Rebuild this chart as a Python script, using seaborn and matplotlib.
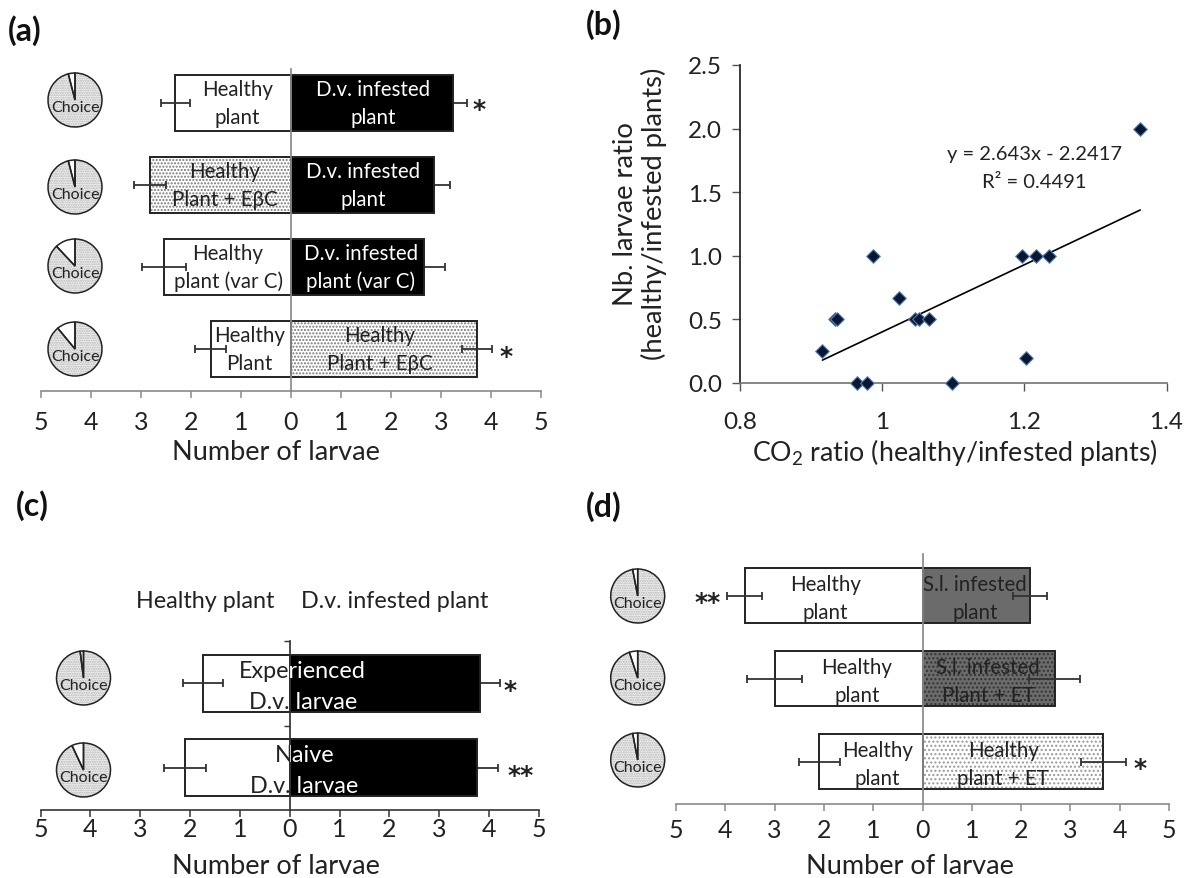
import matplotlib
matplotlib.use("Agg")
import matplotlib.pyplot as plt
from matplotlib.patches import Rectangle
from matplotlib.transforms import Bbox, TransformedBbox
import seaborn as sns

W, H = 1189, 879

# panel (a)
a_rows = ["r1", "r2", "r3", "r4"]
a_left = [2.32, 2.82, 2.54, 1.61]
a_left_err = [0.29, 0.32, 0.44, 0.31]
a_right = [3.23, 2.86, 2.65, 3.71]
a_right_err = [0.29, 0.31, 0.42, 0.30]
a_left_txt = [["Healthy", "plant"], ["Healthy", "Plant + EβC"], ["Healthy", "plant (var C)"], ["Healthy", "Plant"]]
a_right_txt = [["D.v. infested", "plant"], ["D.v. infested", "plant"], ["D.v. infested", "plant (var C)"], ["Healthy", "Plant + EβC"]]
a_pies = [4, 4, 12, 11]

# panel (b)
co2_ratio = [0.916, 0.933, 0.937, 0.964, 0.979, 0.987, 1.023, 1.046, 1.052, 1.066, 1.098, 1.197, 1.216, 1.235, 1.203, 1.363]
larvae_ratio = [0.25, 0.5, 0.5, 0.0, 0.0, 1.0, 0.667, 0.5, 0.5, 0.5, 0.0, 1.0, 1.0, 1.0, 0.2, 2.0]
trend_x = [0.916, 1.363]
trend_y = [0.18, 1.36]

# panel (c)
c_rows = ["r1", "r2"]
c_left = [1.75, 2.10]
c_left_err = [0.40, 0.42]
c_right = [3.81, 3.76]
c_right_err = [0.40, 0.42]
c_txt = [["Experienced", "D.v. larvae"], ["Naive", "D.v. larvae"]]
c_pies = [2, 7]

# panel (d)
d_rows = ["r1", "r2", "r3"]
d_left = [3.61, 3.00, 2.09]
d_left_err = [0.36, 0.55, 0.41]
d_right = [2.18, 2.68, 3.67]
d_right_err = [0.35, 0.51, 0.46]
d_left_txt = [["Healthy", "plant"], ["Healthy", "plant"], ["Healthy", "plant"]]
d_right_txt = [["S.l. infested", "plant"], ["S.l. infested", "Plant + ET"], ["Healthy", "plant + ET"]]
d_pies = [3, 5, 3]

x_ticks = [-5, -4, -3, -2, -1, 0, 1, 2, 3, 4, 5]
x_labels = ["5", "4", "3", "2", "1", "0", "1", "2", "3", "4", "5"]

sns.set_theme(style="white")
plt.rcParams["font.family"] = ["Lato", "DejaVu Sans"]
plt.rcParams["mathtext.default"] = "regular"
INK = "#222222"

fig = plt.figure(figsize=(W / 100, H / 100), dpi=100)


def add_px_axes(x0, x1, y_top, y_bottom):
    return fig.add_axes([x0 / W, 1 - y_bottom / H, (x1 - x0) / W, (y_bottom - y_top) / H])


def draw_pie(cx, cy, white_pct, r=27):
    s = r * 1.25
    pa = add_px_axes(cx - s, cx + s, cy - s, cy + s)
    vals = [white_pct, 100 - white_pct]
    pa.pie(vals, colors=["white", "#f2f2f2"], startangle=90, hatch=["", "......."],
           wedgeprops={"edgecolor": "#b4b4b4", "linewidth": 0})
    pa.pie(vals, startangle=90, wedgeprops={"fill": False, "edgecolor": INK, "linewidth": 1.1})
    pa.set_xlim(-1.25, 1.25)
    pa.set_ylim(-1.25, 1.25)
    pa.text(0, -0.27, "Choice", ha="center", va="center", fontsize=11.5, color=INK)


def bars(ax, rows, left, right, width):
    sns.barplot(x=[-v for v in left], y=rows, orient="h", color="white", saturation=1,
                edgecolor=INK, linewidth=1.4, width=width, ax=ax)
    n = len(ax.patches)
    sns.barplot(x=right, y=rows, orient="h", color="black", saturation=1,
                edgecolor=INK, linewidth=1.4, width=width, ax=ax)
    return n


def stipple(ax, patch, face, dots, dot_color):
    # hatch takes the edge colour, so the dark outline goes on as its own patch
    patch.set(facecolor=face, hatch=dots, edgecolor=dot_color, linewidth=0)
    ax.add_patch(Rectangle(patch.get_xy(), patch.get_width(), patch.get_height(),
                           fill=False, edgecolor=INK, linewidth=1.4, zorder=patch.get_zorder() + 0.1))


def finish_axis(ax, ylim, pad, spine_color, xlabel_x, xlabel_y):
    ax.set_xlim(-5, 5)
    ax.set_ylim(*ylim)
    ax.set_xticks(x_ticks, x_labels)
    ax.set_ylabel("")
    ax.set_xlabel("Number of larvae", fontsize=19.5, color=INK, va="center")
    ax.xaxis.set_label_coords(xlabel_x, xlabel_y)
    ax.tick_params(axis="x", length=5, width=1.1, color=spine_color, pad=pad, labelsize=18,
                   labelcolor=INK, bottom=True)
    sns.despine(ax=ax, top=True, right=True)
    ax.spines["left"].set_position(("data", 0))
    ax.spines["left"].set_color(spine_color)
    ax.spines["left"].set_zorder(5)
    ax.spines["bottom"].set_color(spine_color)
    ax.spines["bottom"].set_linewidth(1.2)
    ax.patch.set_alpha(0)


def error_bars(ax, rows, left, left_err, right, right_err, behind=()):
    style = dict(fmt="none", ecolor="#333333", elinewidth=1.3, capsize=3, capthick=1.3)
    for i in range(len(rows)):
        ax.errorbar(-left[i], i, xerr=left_err[i], zorder=6, **style)
        # on the black bars only the outer half of the whisker shows
        ax.errorbar(right[i], i, xerr=right_err[i], zorder=0.5 if i in behind else 6, **style)


def two_lines(ax, x, y, lines, off, color=INK, size=14.8):
    ax.text(x, y - off, lines[0], ha="center", va="center", fontsize=size, color=color, zorder=7)
    ax.text(x, y + off, lines[1], ha="center", va="center", fontsize=size, color=color, zorder=7)


def star(ax, x, y, s):
    ax.text(x, y, s, ha="center", va="center", fontsize=18, fontweight="bold", color=INK, zorder=7,
            family="DejaVu Sans")


# (a)
ax_a = add_px_axes(41, 541, 70, 392)
n = bars(ax_a, a_rows, a_left, a_right, 0.68)
stipple(ax_a, ax_a.patches[1], "white", ".....", "#777777")
stipple(ax_a, ax_a.patches[n + 3], "white", ".....", "#777777")
error_bars(ax_a, a_rows, a_left, a_left_err, a_right, a_right_err, behind=(0, 1, 2))
finish_axis(ax_a, (3.51, -0.41), 9, "#8a8a8a", (276 - 41) / 500, (392 - 453) / 322)
ax_a.set_yticks([])
a_left_x = [-1.07, -1.33, -1.26, -0.83]
a_right_x = [1.64, 1.45, 1.40, 1.77]
for i in range(4):
    two_lines(ax_a, a_left_x[i], i, a_left_txt[i], 0.17)
    two_lines(ax_a, a_right_x[i], i, a_right_txt[i], 0.17, color=INK if i == 3 else "white")
star(ax_a, 3.77, 0.08, "*")
star(ax_a, 4.3, 3.08, "*")
for cy, p in zip([101, 188, 267, 350], a_pies):
    draw_pie(75, cy, p)

# (b)
ax_b = add_px_axes(740, 1166.5, 66, 384)
sns.scatterplot(x=co2_ratio, y=larvae_ratio, marker="D", s=48, color="#0b1730",
                edgecolor="#4f7fb8", linewidth=0.8, zorder=5, clip_on=False, ax=ax_b)
sns.lineplot(x=trend_x, y=trend_y, color="black", linewidth=1.2, ax=ax_b)
ax_b.set_xlim(0.8, 1.4)
ax_b.set_ylim(0, 2.5)
ax_b.set_xticks([0.8, 1.0, 1.2, 1.4], ["0.8", "1", "1.2", "1.4"])
ax_b.set_yticks([0, 0.5, 1.0, 1.5, 2.0, 2.5], ["0.0", "0.5", "1.0", "1.5", "2.0", "2.5"])
ax_b.tick_params(axis="y", length=6, width=1, color="#555555", labelsize=17.5, labelcolor=INK, left=True, pad=7)
ax_b.tick_params(axis="x", length=6, width=1, color="#555555", labelsize=17.5, labelcolor=INK, bottom=True, pad=14)
sns.despine(ax=ax_b)
ax_b.spines["left"].set_color(INK)
ax_b.spines["bottom"].set_color("#777777")
ax_b.set_xlabel("CO$_2$ ratio (healthy/infested plants)", fontsize=19.3, color=INK, va="center")
ax_b.xaxis.set_label_coords((955 - 740) / 426.5, (384 - 452) / 318)
ax_b.set_ylabel("Nb. larvae ratio\n(healthy/infested plants)", fontsize=19.7, color=INK, linespacing=1.1, va="center")
ax_b.yaxis.set_label_coords((640 - 740) / 426.5, (384 - 214) / 318)
ax_b.text(1.2136, 1.808, "y = 2.643x - 2.2417", ha="center", va="center", fontsize=14.5, color=INK)
ax_b.text(1.2136, 1.588, "R² = 0.4491", ha="center", va="center", fontsize=14.5, color=INK)

# (c)
ax_c = add_px_axes(40.6, 539, 642, 811)
n = bars(ax_c, c_rows, c_left, c_right, 0.67)
error_bars(ax_c, c_rows, c_left, c_left_err, c_right, c_right_err, behind=(0, 1))
finish_axis(ax_c, (1.5, -0.5), 0, "#333333", (276 - 40.6) / 498.4, (811 - 867) / 169)
ax_c.set_yticks([-0.5, 0.5], ["", ""])
ax_c.tick_params(axis="y", length=4, width=1, color="#333333", left=True)
c_x = [0.26, 0.29]
neg = TransformedBbox(Bbox([[-5, -1], [0, 2]]), ax_c.transData)
pos = TransformedBbox(Bbox([[0, -1], [5, 2]]), ax_c.transData)
for i in range(2):
    for j, off in enumerate([-0.185, 0.185]):
        for col, box in [(INK, neg), ("white", pos)]:
            t = ax_c.text(c_x[i], i + 0.03 + off, c_txt[i][j], ha="center", va="center", fontsize=16.8,
                          color=col, zorder=7, clip_on=True)
            t.set_clip_box(box)
star(ax_c, 4.42, 0.08, "*")
star(ax_c, 4.64, 1.08, "**")
fig.text(205 / W, 1 - 602 / H, "Healthy plant", ha="center", va="center", fontsize=16.8, color=INK)
fig.text(395 / W, 1 - 601 / H, "D.v. infested plant", ha="center", va="center", fontsize=16.8, color=INK)
for cy, p in zip([679, 771], c_pies):
    draw_pie(83.5, cy, p)

# (d)
ax_d = add_px_axes(676, 1169, 555, 805)
n = bars(ax_d, d_rows, d_left, d_right, 0.67)
ax_d.patches[n].set(facecolor="#6b6b6b")
stipple(ax_d, ax_d.patches[n + 1], "#6b6b6b", "....", "#333333")
stipple(ax_d, ax_d.patches[n + 2], "white", "....", "#999999")
error_bars(ax_d, d_rows, d_left, d_left_err, d_right, d_right_err)
finish_axis(ax_d, (2.51, -0.5), 5, "#8a8a8a", (910 - 676) / 493, (805 - 867) / 250)
ax_d.set_yticks([])
d_left_x = [-1.97, -1.33, -0.91]
d_right_x = [1.06, 1.33, 1.64]
for i in range(3):
    two_lines(ax_d, d_left_x[i], i + 0.03, d_left_txt[i], 0.17)
    two_lines(ax_d, d_right_x[i], i + 0.03, d_right_txt[i], 0.17)
star(ax_d, -4.36, 0.08, "**")
star(ax_d, 4.41, 2.08, "*")
for cy, p in zip([597, 679, 761], d_pies):
    draw_pie(637.7, cy, p)

for s, x, y in [("(a)", 25, 31), ("(b)", 604, 25), ("(c)", 32, 506), ("(d)", 604, 507)]:
    fig.text(x / W, 1 - y / H, s, ha="center", va="center", fontsize=23, fontweight="bold", color="#111111")

fig.savefig("out.png", dpi=100, facecolor="white")
